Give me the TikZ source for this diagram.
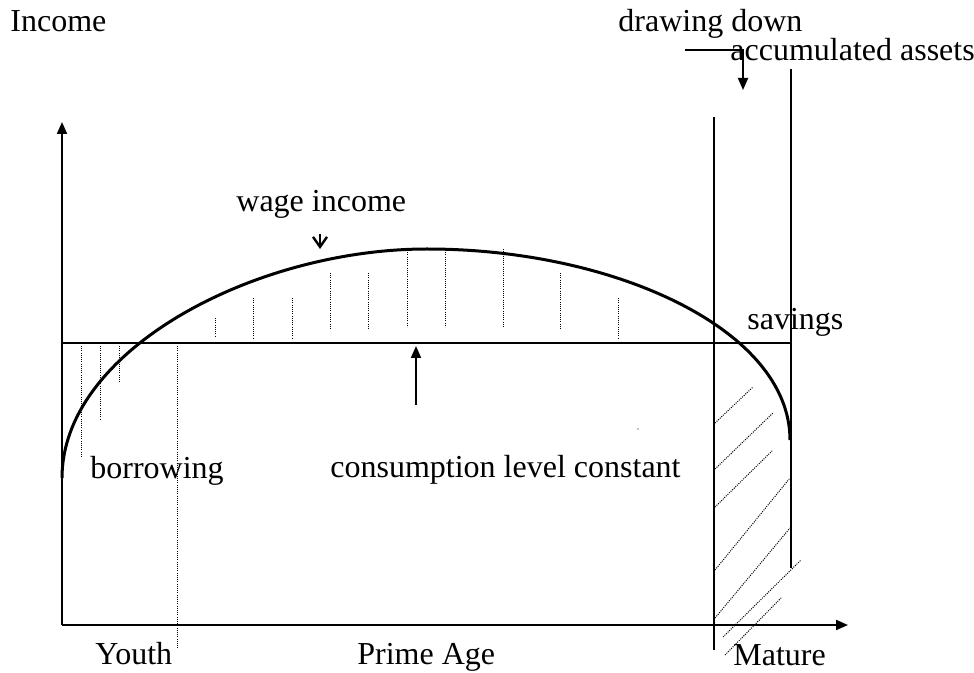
\documentclass[tikz,border=0pt]{standalone}
\usepackage{fontspec}
\setmainfont{Liberation Serif}
\usetikzlibrary{arrows.meta}
\begin{document}
\begin{tikzpicture}[x=0.5pt,y=-0.5pt,
  lbl/.style={anchor=base west,inner sep=0pt,font=\fontsize{16}{19}\selectfont},
  axisline/.style={line width=1pt},
  curveline/.style={line width=1.5pt},
  dots/.style={line width=0.5pt,dash pattern=on 0.5pt off 0.6pt},
  tri/.style={-{Triangle[length=6pt,width=5pt]}},
  barb/.style={-{Straight Barb[length=5pt,width=7pt]}}
]
\useasboundingbox (0,0) rectangle (974,673);

% axes
\coordinate (O) at (62,625);
\coordinate (ytop) at (62,122);
\coordinate (xend) at (848,625);
\draw[axisline,tri] (O) -- (ytop);
\draw[axisline,tri] (O) -- (xend);

% consumption line
\coordinate (cL) at (62,343);
\coordinate (cR) at (791,343);
\draw[axisline] (cL) -- (cR);

% verticals
\coordinate (vL1) at (714,117); \coordinate (vL2) at (714,650);
\coordinate (vR1) at (791,69);  \coordinate (vR2) at (791,568);
\draw[axisline] (vL1) -- (vL2);
\draw[axisline] (vR1) -- (vR2);

% wage income curve
\coordinate (w0) at (62,478);
\coordinate (wp) at (427,249);
\coordinate (w1) at (790,440);
\draw[curveline] (w0) .. controls (62,350) and (255,249) .. (wp)
                      .. controls (615,249) and (790,330) .. (w1);

% dotted lines between consumption line and curve
\foreach \x/\a/\b in {215/318/337, 253/298/338, 292/298/338, 330/273/330, 368/273/330,
                      407/250/327, 445/250/327, 503/249/327, 560/273/330, 618/298/338}
  \draw[dots] (\x,\a) -- (\x,\b);

% borrowing dotted lines
\foreach \x/\a/\b in {81/346/458, 100/346/420, 119/346/382, 177/346/649}
  \draw[dots] (\x,\a) -- (\x,\b);

% hatching of drawing-down area
\foreach \xa/\ya/\xb/\yb in {715/423/753/387, 715/469/773/413, 715/507/773/450,
                              715/570/790/478, 715/618/790/528, 723/637/801/560,
                              725/655/782/597}
  \draw[dots] (\xa,\ya) -- (\xb,\yb);

% stray dot
\fill (638,429) circle (0.6);

% labels
\node[lbl] (income) at (10,32) {Income};
\node[lbl] (dd) at (618,32) {drawing down};
\node[lbl] (aa) at (730,61) {accumulated assets};
\node[lbl] (wage) at (236,212) {wage income};
\node[lbl] (sav) at (747,330) {savings};
\node[lbl] (bor) at (90,478) {borrowing};
\node[lbl] (cons) at (330,477) {consumption level constant};
\node[lbl] (youth) at (95,664) {Youth};
\node[lbl] (prime) at (357,664) {Prime Age};
\node[lbl] (mature) at (733,665) {Mature};

% wage income arrow
\coordinate (wa1) at (320,234);
\coordinate (wa2) at (320,249);
\draw[line width=1.2pt,barb] (wa1) -- (wa2);

% consumption arrow
\coordinate (ca1) at (416,405);
\coordinate (ca2) at (416,346);
\draw[axisline,tri] (ca1) -- (ca2);

% drawing down connector
\coordinate (dd1) at (685,50);
\coordinate (dd2) at (743,50);
\coordinate (dd3) at (743,90);
\draw[axisline,tri] (dd1) -- (dd2) -- (dd3);
\end{tikzpicture}
\end{document}
